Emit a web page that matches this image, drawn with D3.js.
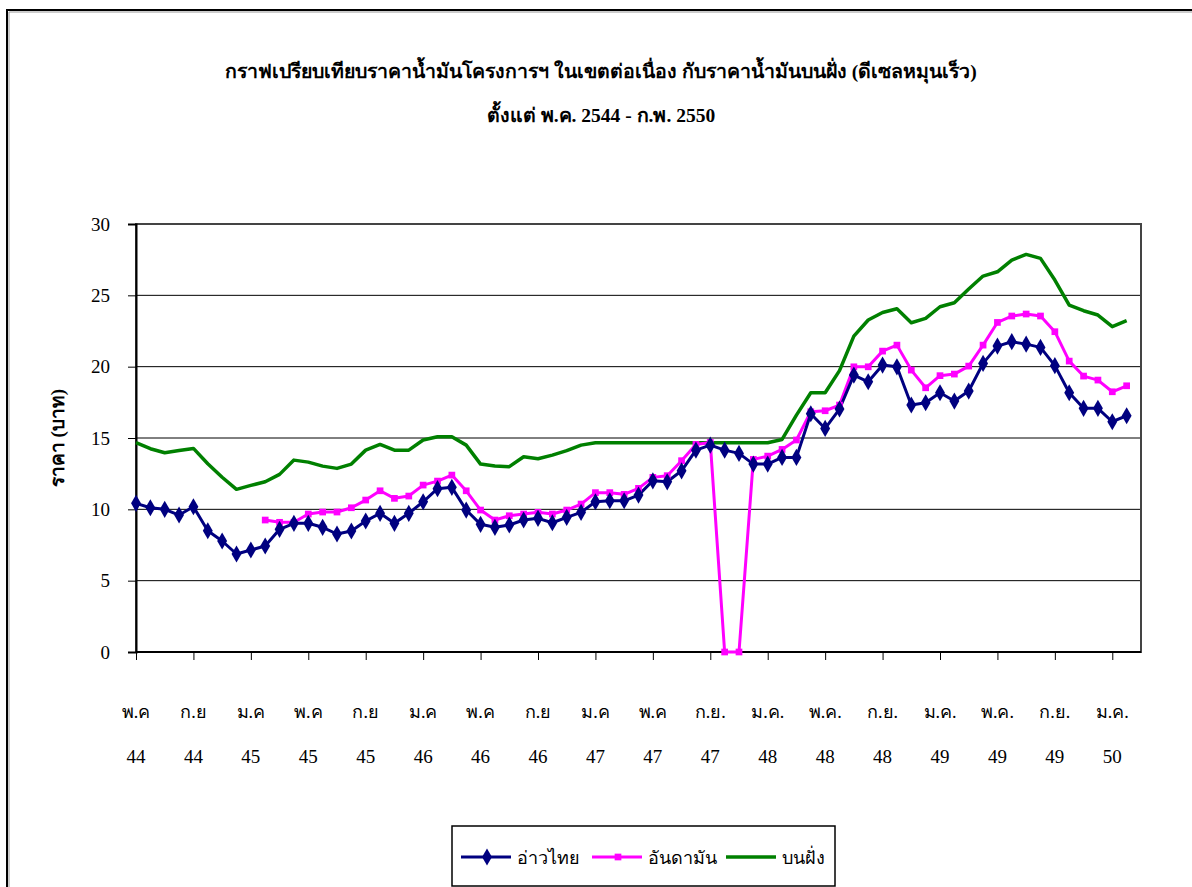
<!DOCTYPE html>
<html>
<head>
<meta charset="utf-8">
<script src="https://cdn.jsdelivr.net/npm/d3@7"></script>
<style>
    body { margin: 0; background: #fff; }
    svg text { font-family: "Liberation Serif", "Times New Roman", serif; fill: #000; }
</style>
</head>
<body>
<svg width="1192" height="887"></svg>
<script>
// tick labels every 4 months (พ.ค 44 .. ม.ค. 50)
const tickMonths = ["พ.ค", "ก.ย", "ม.ค", "พ.ค", "ก.ย", "ม.ค", "พ.ค", "ก.ย", "ม.ค",
    "พ.ค", "ก.ย.", "ม.ค.", "พ.ค.", "ก.ย.", "ม.ค.", "พ.ค.", "ก.ย.", "ม.ค."];
const tickYears = ["44", "44", "45", "45", "45", "46", "46", "46", "47",
    "47", "47", "48", "48", "48", "49", "49", "49", "50"];

// monthly prices, May 2544 - Feb 2550 (70 months)
const gulf = [10.42, 10.11, 10.0, 9.6, 10.18, 8.5, 7.78, 6.87, 7.15, 7.43,
    8.6, 9.02, 9.02, 8.74, 8.27, 8.48, 9.18, 9.72, 9.02, 9.72,
    10.53, 11.45, 11.54, 9.95, 8.95, 8.74, 8.9, 9.25, 9.37, 9.06,
    9.44, 9.79, 10.53, 10.6, 10.6, 11.0, 12.0, 11.93, 12.7, 14.15,
    14.5, 14.15, 13.92, 13.17, 13.17, 13.64, 13.64, 16.7, 15.67, 17.03,
    19.41, 18.94, 20.11, 19.99, 17.31, 17.47, 18.17, 17.59, 18.29, 20.23,
    21.44, 21.75, 21.58, 21.35, 20.07, 18.17, 17.08, 17.08, 16.14, 16.56];

const andaman = [null, null, null, null, null, null, null, null, null, 9.25,
    9.09, 9.09, 9.67, 9.81, 9.81, 10.11, 10.65, 11.3, 10.77, 10.93,
    11.7, 11.98, 12.4, 11.3, 9.95, 9.25, 9.55, 9.67, 9.79, 9.67,
    9.95, 10.37, 11.17, 11.17, 11.05, 11.47, 12.24, 12.36, 13.41, 14.55,
    14.69, 0, 0, 13.5, 13.73, 14.2, 14.86, 16.84, 16.91, 17.31,
    19.99, 19.99, 21.09, 21.51, 19.76, 18.52, 19.37, 19.48, 20.04, 21.51,
    23.1, 23.55, 23.69, 23.55, 22.45, 20.39, 19.34, 19.06, 18.24, 18.66];

const onshore = [14.67, 14.25, 13.97, 14.13, 14.27, 13.2, 12.25, 11.4, 11.68, 11.93,
    12.45, 13.45, 13.31, 13.03, 12.87, 13.17, 14.15, 14.55, 14.15, 14.15,
    14.86, 15.09, 15.09, 14.5, 13.17, 13.03, 12.99, 13.69, 13.55, 13.8,
    14.11, 14.5, 14.67, 14.67, 14.67, 14.67, 14.67, 14.67, 14.67, 14.67,
    14.67, 14.67, 14.67, 14.67, 14.67, 14.9, 16.6, 18.17, 18.17, 19.72,
    22.14, 23.27, 23.8, 24.06, 23.08, 23.38, 24.2, 24.48, 25.44, 26.35,
    26.65, 27.47, 27.87, 27.59, 26.07, 24.32, 23.92, 23.62, 22.8, 23.22];

const seriesNames = ["อ่าวไทย", "อันดามัน", "บนฝั่ง"];
const seriesColors = ["#000080", "#ff00ff", "#008000"];

const plotLeft = 136, plotRight = 1141, plotTop = 224, plotBottom = 652;

const svg = d3.select('svg');

// outer chart border
svg.append('rect')
    .attr('x', 7).attr('y', 10)
    .attr('width', 1200).attr('height', 900)
    .attr('fill', 'none')
    .attr('stroke', '#000')
    .attr('stroke-width', 2);
svg.append('path')
    .attr('d', 'M9,1200V12H1200')
    .attr('fill', 'none')
    .attr('stroke', '#999')
    .attr('stroke-width', 1);

// title
svg.append('text')
    .attr('x', 601).attr('y', 78)
    .attr('text-anchor', 'middle')
    .attr('font-size', 19.5)
    .attr('font-weight', 'bold')
    .text('กราฟเปรียบเทียบราคาน้ำมันโครงการฯ ในเขตต่อเนื่อง กับราคาน้ำมันบนฝั่ง (ดีเซลหมุนเร็ว)');
svg.append('text')
    .attr('x', 601).attr('y', 122)
    .attr('text-anchor', 'middle')
    .attr('font-size', 19.5)
    .attr('font-weight', 'bold')
    .text('ตั้งแต่ พ.ค. 2544 - ก.พ. 2550');

const x = d3.scaleLinear()
    .domain([0, 70])
    .range([plotLeft, plotRight]);

const y = d3.scaleLinear()
    .domain([0, 30])
    .range([plotBottom, plotTop]);

// gridlines
svg.append('g')
    .selectAll('line')
    .data([5, 10, 15, 20, 25])
    .enter()
    .append('line')
    .attr('x1', plotLeft).attr('x2', plotRight)
    .attr('y1', d => y(d)).attr('y2', d => y(d))
    .attr('stroke', '#000')
    .attr('stroke-width', 1);

// plot area border
svg.append('rect')
    .attr('x', plotLeft).attr('y', plotTop)
    .attr('width', plotRight - plotLeft).attr('height', plotBottom - plotTop)
    .attr('fill', 'none')
    .attr('stroke', '#444')
    .attr('stroke-width', 2);

// y axis
const yAxis = d3.axisLeft(y)
    .tickValues([0, 5, 10, 15, 20, 25, 30])
    .tickSize(8)
    .tickPadding(18);

svg.append('g')
    .attr('transform', `translate(${plotLeft},0)`)
    .call(yAxis)
    .call(g => g.select('.domain').attr('stroke', '#000').attr('stroke-width', 2))
    .call(g => g.selectAll('text')
        .attr('font-size', 19)
        .attr('font-family', '"Liberation Serif", serif'));

// x axis ticks
const tickIdx = tickMonths.map((d, i) => i * 4);
const xAxis = d3.axisBottom(x)
    .tickValues(tickIdx)
    .tickSize(8)
    .tickFormat('');

svg.append('g')
    .attr('transform', `translate(0,${plotBottom})`)
    .call(xAxis)
    .call(g => g.select('.domain').remove());

svg.append('line')
    .attr('x1', plotLeft).attr('x2', plotRight)
    .attr('y1', plotBottom).attr('y2', plotBottom)
    .attr('stroke', '#000')
    .attr('stroke-width', 2);

// x tick labels (two lines)
svg.append('g')
    .selectAll('text')
    .data(tickMonths)
    .enter()
    .append('text')
    .attr('x', (d, i) => x(tickIdx[i]))
    .attr('y', 718)
    .attr('text-anchor', 'middle')
    .attr('font-size', 18)
    .text(d => d);

svg.append('g')
    .selectAll('text')
    .data(tickYears)
    .enter()
    .append('text')
    .attr('x', (d, i) => x(tickIdx[i]))
    .attr('y', 763)
    .attr('text-anchor', 'middle')
    .attr('font-size', 19)
    .text(d => d);

// y axis title
svg.append('text')
    .attr('transform', 'translate(64,438) rotate(-90)')
    .attr('text-anchor', 'middle')
    .attr('font-size', 19)
    .attr('font-weight', 'bold')
    .text('ราคา (บาท)');

// lines
const line = d3.line()
    .defined(d => d != null)
    .x((d, i) => x(i))
    .y(d => y(d));

const allSeries = [gulf, andaman, onshore];
const widths = [3, 3, 3.5];

[2, 1, 0].forEach(k => {
    svg.append('path')
        .datum(allSeries[k])
        .attr('fill', 'none')
        .attr('stroke', seriesColors[k])
        .attr('stroke-width', widths[k])
        .attr('stroke-linejoin', 'round')
        .attr('d', line);
});

// markers
const diamond = d3.symbol().type(d3.symbolDiamond).size(85);
const square = d3.symbol().type(d3.symbolSquare).size(45);

svg.append('g')
    .selectAll('path')
    .data(andaman.map((v, i) => ({ v, i })).filter(d => d.v != null))
    .enter()
    .append('path')
    .attr('d', square)
    .attr('fill', seriesColors[1])
    .attr('transform', d => `translate(${x(d.i)},${y(d.v)})`);

svg.append('g')
    .selectAll('path')
    .data(gulf)
    .enter()
    .append('path')
    .attr('d', diamond)
    .attr('fill', seriesColors[0])
    .attr('transform', (d, i) => `translate(${x(i)},${y(d)})`);

// legend
const legend = svg.append('g');
legend.append('rect')
    .attr('x', 452).attr('y', 826)
    .attr('width', 383).attr('height', 60)
    .attr('fill', '#fff')
    .attr('stroke', '#000')
    .attr('stroke-width', 1.5);

const legX = [461, 592, 726];
const legY = 857;
seriesNames.forEach((name, k) => {
    legend.append('line')
        .attr('x1', legX[k]).attr('x2', legX[k] + 50)
        .attr('y1', legY).attr('y2', legY)
        .attr('stroke', seriesColors[k])
        .attr('stroke-width', widths[k]);
    if (k == 0) {
        legend.append('path').attr('d', diamond).attr('fill', seriesColors[0])
            .attr('transform', `translate(${legX[k] + 26},${legY})`);
    } else if (k == 1) {
        legend.append('path').attr('d', square).attr('fill', seriesColors[1])
            .attr('transform', `translate(${legX[k] + 26},${legY})`);
    }
    legend.append('text')
        .attr('x', legX[k] + 56)
        .attr('y', legY + 7)
        .attr('font-size', 18)
        .text(name);
});
</script>
</body>
</html>
